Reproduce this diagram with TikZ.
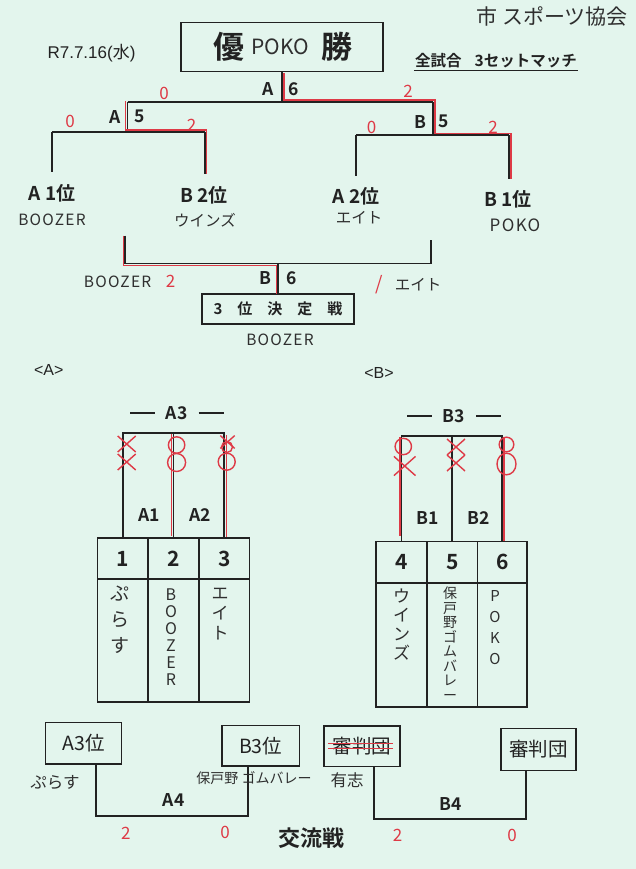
\documentclass[tikz,border=0pt]{standalone}
\usepackage{fontspec}
\setmainfont{Liberation Sans}
\newfontfamily\jp{Noto Sans CJK JP}
\newfontfamily\jpb{Noto Sans CJK JP}[UprightFont=* Bold]
\usetikzlibrary{calc}
\definecolor{paper}{HTML}{E3F5ED}
\definecolor{ink}{HTML}{222222}
\definecolor{pen}{HTML}{DE3A46}
\definecolor{hand}{HTML}{2F2F2F}
\newcommand\fsz[1]{\fontsize{#1}{#1}\selectfont}
\begin{document}
\begin{tikzpicture}[x=1pt,y=-1pt,
  ln/.style={draw=ink,line width=1.8pt},
  rd/.style={draw=pen,line width=1.4pt},
  frame/.style={draw=ink,line width=1.3pt,inner sep=0pt},
  lbl/.style={font=\jpb\fsz{17.5},text=ink,inner sep=1pt},
  team/.style={font=\jpb\fsz{19},text=ink,inner sep=1pt},
  hw/.style={font=\jp\fsz{15.5},text=hand,inner sep=1pt},
  hwl/.style={font=\jp\fsz{15.5}\addfontfeature{LetterSpace=8},text=hand,inner sep=1pt},
  rnum/.style={font=\jp\fsz{17},text=pen,inner sep=1pt},
  cell/.style={draw=ink,line width=1.3pt,inner sep=0pt,font=\jpb\fsz{21},text=ink},
  vcol/.style={anchor=north,align=center,inner sep=0pt,text=hand},
  bbox/.style={frame,font=\jp\fsz{19.5},text=ink},
  xm/.pic={\draw[rd] (-9,-8)--(9,8) (-9,8)--(9,-8);},
]
\fill[paper] (0,0) rectangle (636,869);
\useasboundingbox (0,0) rectangle (636,869);

% ---------- header ----------
\node[frame,minimum width=202pt,minimum height=48.5pt] (title) at (282,47) {};
\node[font=\jpb\fsz{31},text=ink] (yu) at (229,47) {優};
\node[font=\jp\fsz{21},text=hand] (poko) at (280,47) {POKO};
\node[font=\jpb\fsz{31},text=ink] (sho) at (337,47) {勝};
\node[font=\fsz{17},text=ink] (date) at (91.5,53.5) {R7.7.16({\jp 水})};
\node[font=\jpb\fsz{15.5},text=ink,inner sep=1pt] (rule) at (496,61) {全試合\hspace{13pt}3セットマッチ};
\draw[draw=ink,line width=1.2pt] ($(rule.south west)+(0,1)$) -- ($(rule.south east)+(0,1)$);
\node[hw,font=\jp\fsz{21}] (soc) at (552,16) {市 スポーツ協会};

% ---------- main bracket ----------
\coordinate (f6) at (282,101.7);
\coordinate (a5) at (127.5,101.7);
\coordinate (b5) at (433,101.7);
\coordinate (a5b) at (127.5,131.7);
\coordinate (a5l) at (52,131.7);
\coordinate (a5r) at (205,131.7);
\coordinate (b5b) at (433,135);
\coordinate (b5l) at (356,135);
\coordinate (b5r) at (509,135);
\coordinate (t1) at (52,172.5);
\coordinate (t2) at (205,174);
\coordinate (t3) at (356,176);
\coordinate (t4) at (509,179);
\draw[ln] (title.south) -- (f6);
\draw[ln] (a5) -- (b5);
\draw[ln] (a5) -- (a5b);
\draw[ln] (b5) -- (b5b);
\draw[ln] (a5l) -- (a5r);
\draw[ln] (b5l) -- (b5r);
\draw[ln] (a5l) -- (t1);
\draw[ln] (a5r) -- (t2);
\draw[ln] (b5l) -- (t3);
\draw[ln] (b5r) -- (t4);
% winners in red
\draw[rd] (283.9,73) |- (434.8,100) |- (510.8,133.3) -- (510.8,179);
\draw[rd] (125.6,101.5) |- (206.7,130) -- (206.7,174);

\node[lbl] (lA6) at (268,89) {A};
\node[lbl] (n6a) at (293.5,89) {6};
\node[lbl] (lA5) at (115.6,116.7) {A};
\node[lbl] (n5a) at (140,116.7) {5};
\node[lbl] (lB5) at (420,121.7) {B};
\node[lbl] (n5b) at (444,121.7) {5};
\node[rnum] (s1) at (164,93) {0};
\node[rnum] (s2) at (408,91.7) {2};
\node[rnum] (s3) at (70,121.7) {0};
\node[rnum] (s4) at (191.7,125) {2};
\node[rnum] (s5) at (371.7,127.7) {0};
\node[rnum] (s6) at (493,127.5) {2};

\node[team] (ta1) at (52,193.3) {A 1位};
\node[team] (tb2) at (204,195) {B 2位};
\node[team] (ta2) at (356,196.7) {A 2位};
\node[team] (tb1) at (508,199.3) {B 1位};
\node[hwl] (w1) at (52,220) {BOOZER};
\node[hw] (w2) at (205,220) {ウインズ};
\node[hw] (w3) at (359,218) {エイト};
\node[hwl,font=\jp\fsz{17}\addfontfeature{LetterSpace=8}] (w4) at (515,225) {POKO};

% ---------- third place ----------
\node[frame,minimum width=152pt,minimum height=30pt,font=\jpb\fsz{15},text=ink] (third) at (278,309)
  {3\hspace{15pt}位\hspace{15pt}決\hspace{15pt}定\hspace{15pt}戦};
\coordinate (c1) at (125,235.7);
\coordinate (c2) at (431,240);
\coordinate (c6) at (278,263.5);
\draw[ln] (c1) |- (c6) -| (c2);
\draw[ln] (c6) -- (third.north);
\draw[rd] (123.3,235.7) |- (276.2,265.3) -- (276.2,294);
\node[lbl] (lB6) at (265.7,278.3) {B};
\node[lbl] (n6b) at (291.7,278.3) {6};
\node[hwl] (w5) at (117.6,282) {BOOZER};
\node[rnum] (s7) at (170.7,281.7) {2};
\node[rnum,font=\jp\fsz{19}] (s8) at (379,285) {/};
\node[hw] (w6) at (418,285) {エイト};
\node[hwl] (w7) at (280,340) {BOOZER};

% ---------- group A ----------
\node[font=\fsz{16},text=ink] (gA) at (48.7,370) {<A>};
\node[font=\fsz{16},text=ink] (gB) at (379,373) {<B>};
\node[lbl] (a3) at (176.7,413) {A3};
\draw[draw=ink,line width=2pt] ($(a3.west)+(-10,0)$) -- ++(-25,0);
\draw[draw=ink,line width=2pt] ($(a3.east)+(10,0)$) -- ++(25,0);

\node[cell,minimum width=50.6pt,minimum height=41pt] (h1) at (122.7,558.5) {1};
\node[cell,minimum width=51pt,minimum height=41pt] (h2) at (173.5,558.5) {2};
\node[cell,minimum width=50.5pt,minimum height=41pt] (h3) at (224.25,558.5) {3};
\node[cell,minimum width=50.6pt,minimum height=123pt] (m1) at (122.7,640.5) {};
\node[cell,minimum width=51pt,minimum height=123pt] (m2) at (173.5,640.5) {};
\node[cell,minimum width=50.5pt,minimum height=123pt] (m3) at (224.25,640.5) {};
\node[vcol,font=\jp\fontsize{19}{26}\selectfont] (v1) at (120,586) {ぷ\\ら\\す};
\node[vcol,font=\jp\fontsize{16}{17}\selectfont] (v2) at (171,589) {B\\O\\O\\Z\\E\\R};
\node[vcol,font=\jp\fontsize{17}{20}\selectfont] (v3) at (220,588) {エ\\イ\\ト};

\draw[ln] (h1.north) -- ++(0,-104.7) -| (h3.north);
\draw[ln] (h2.north) -- ++(0,-104.7);
\draw[rd] (171.2,433.5) -- (171.2,535.5);
\draw[rd] (226.6,435) -- (226.6,537);
\node[lbl] (la1) at (149,515) {A1};
\node[lbl] (la2) at (200,515) {A2};
% marks
\pic at (126.7,444) {xm};
\pic at (126.7,462) {xm};
\draw[rd] (176.6,445) circle[radius=8.2];
\draw[rd] (176.6,462.5) circle[radius=9];
\pic[scale=0.8] at (227.5,442) {xm};
\draw[rd] (227,447) circle[radius=5.5];
\draw[rd] (226.7,461.7) circle[radius=8.5];

% ---------- group B ----------
\node[lbl] (b3) at (454,416) {B3};
\draw[draw=ink,line width=2pt] ($(b3.west)+(-10,0)$) -- ++(-25,0);
\draw[draw=ink,line width=2pt] ($(b3.east)+(10,0)$) -- ++(25,0);

\node[cell,minimum width=51pt,minimum height=41.3pt] (h4) at (401.5,562.3) {4};
\node[cell,minimum width=50.5pt,minimum height=41.3pt] (h5) at (452.25,562.3) {5};
\node[cell,minimum width=49.5pt,minimum height=41.3pt] (h6) at (502.25,562.3) {6};
\node[cell,minimum width=51pt,minimum height=124pt] (m4) at (401.5,645) {};
\node[cell,minimum width=50.5pt,minimum height=124pt] (m5) at (452.25,645) {};
\node[cell,minimum width=49.5pt,minimum height=124pt] (m6) at (502.25,645) {};
\node[vcol,font=\jp\fontsize{17}{19}\selectfont] (v4) at (401.6,589) {ウ\\イ\\ン\\ズ};
\node[vcol,font=\jp\fontsize{14}{14.5}\selectfont] (v5) at (450,587) {保\\戸\\野\\ゴ\\ム\\バ\\レ\\ー};
\node[vcol,font=\jp\fontsize{15}{21}\selectfont] (v6) at (495,590) {P\\O\\K\\O};

\draw[ln] (h4.north) -- ++(0,-105) -| (h6.north);
\draw[ln] (h5.north) -- ++(0,-105);
\draw[rd] (399.8,437) -- (399.8,536);
\draw[rd] (504,437) -- (504,541);
\node[lbl] (lb1) at (428,518) {B1};
\node[lbl] (lb2) at (478.5,518) {B2};
\draw[rd] (403.3,446.5) circle[radius=8.2];
\pic[scale=1.2] at (404.7,466) {xm};
\pic at (456,447) {xm};
\pic at (456,463) {xm};
\draw[rd] (506.5,444.5) circle[radius=7.3];
\draw[rd] (506.5,464) ellipse[x radius=9.5,y radius=10.8];

% ---------- cross games ----------
\node[bbox,minimum width=76.3pt,minimum height=41.3pt] (a3p) at (83.5,743.3) {A3位};
\node[bbox,minimum width=77.4pt,minimum height=40.7pt] (b3p) at (260.7,745.7) {B3位};
\node[bbox,minimum width=76pt,minimum height=40.7pt] (ref1) at (362,746.3) {審判団};
\node[bbox,minimum width=75pt,minimum height=42.4pt] (ref2) at (538.5,749.5) {審判団};
\draw[draw=pen,line width=1.1pt] ($(ref1.center)+(-34,-3)$) -- ($(ref1.center)+(31,-3)$);
\draw[draw=pen,line width=1.1pt] ($(ref1.center)+(-34,2.5)$) -- ($(ref1.center)+(31,2.5)$);

\coordinate (a4l) at ($(a3p.south)+(12.2,0)$);
\coordinate (a4r) at ($(b3p.south)+(-12.7,0)$);
\coordinate (a4m) at (95.7,816);
\draw[ln] (a4l) -- (a4m) -| (a4r);
\coordinate (b4l) at ($(ref1.south)+(12,0)$);
\coordinate (b4r) at ($(ref2.south)+(-12.5,0)$);
\coordinate (b4m) at (374,819);
\draw[ln] (b4l) -- (b4m) -| (b4r);
\node[lbl] (la4) at (173.6,800) {A4};
\node[lbl] (lb4) at (451,804) {B4};
\node[hw,font=\jp\fsz{16.5}] (w8) at (55,782) {ぷらす};
\node[hw,font=\jp\fsz{14}] (w9) at (254,778) {保戸野 ゴムバレー};
\node[hw,font=\jp\fsz{16.5}] (w10) at (347,780) {有志};
\node[rnum] (s9) at (125.8,833) {2};
\node[rnum] (s10) at (225,832) {0};
\node[rnum] (s11) at (397.6,835) {2};
\node[rnum] (s12) at (512,835) {0};
\node[font=\jpb\fsz{22},text=ink] (koryu) at (311,838) {交流戦};
\end{tikzpicture}
\end{document}
